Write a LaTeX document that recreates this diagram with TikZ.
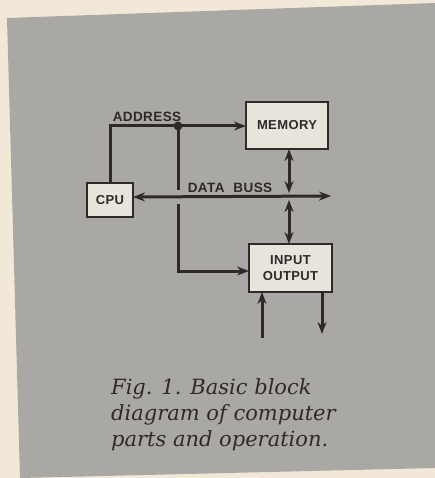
\documentclass[tikz,border=0pt]{standalone}
\usepackage{fontspec}
\newfontfamily\boxfont[LetterSpace=3]{Liberation Sans}
\newfontfamily\capfont{DejaVu Serif}
\usetikzlibrary{arrows.meta}
\definecolor{paper}{HTML}{F1E8D8}
\definecolor{panel}{HTML}{AAA8A5}
\definecolor{ink}{HTML}{2E2A28}
\definecolor{boxfill}{HTML}{E8E4DC}
\tikzset{
  blk/.style={draw=ink, line width=2.2pt, fill=boxfill, inner sep=0pt, text=ink,
              font=\boxfont\bfseries\fontsize{13}{15}\selectfont, align=center},
  wire/.style={draw=ink, line width=3pt},
  tip/.style={-{Stealth[length=12pt,width=9pt]}},
  dtip/.style={{Stealth[length=12pt,width=9pt]}-{Stealth[length=12pt,width=9pt]}},
  lbl/.style={text=ink, font=\boxfont\bfseries\fontsize{13.5}{15}\selectfont, inner sep=0pt},
  captext/.style={text=ink, font=\capfont\itshape\fontsize{21}{26}\selectfont, inner sep=0pt, anchor=base west}
}
\begin{document}
\begin{tikzpicture}[x=1pt,y=-1pt]
\useasboundingbox (0,0) rectangle (435,478);
\fill[paper] (0,0) rectangle (435,478);
\fill[panel] (7,18) -- (435,3) -- (435,468) -- (20,478) -- cycle;

% blocks
\node[blk, minimum width=82pt, minimum height=47pt] (mem) at (287,125.5) {MEMORY};
\node[blk, minimum width=46pt, minimum height=34pt] (cpu) at (110,200) {CPU};
\node[blk, minimum width=83pt, minimum height=48pt] (io) at (290.5,268) {INPUT\\[1pt]OUTPUT};

% coordinates
\coordinate (cpuT) at (110,183);
\coordinate (acorner) at (110,126);
\coordinate (dot) at (178,126);
\coordinate (memL) at (246,126);
\coordinate (gapA) at (178,190);
\coordinate (gapB) at (178,204);
\coordinate (bcorner) at (178,271);
\coordinate (ioL) at (249,271);
\coordinate (busL) at (133,197);
\coordinate (busR) at (331,196);
\coordinate (memB) at (289,149);
\coordinate (busM1) at (289,193);
\coordinate (busM2) at (289,200);
\coordinate (ioT) at (289,244);
\coordinate (inB) at (262,338);
\coordinate (inT) at (262,292);
\coordinate (outT) at (322,292);
\coordinate (outB) at (322,334);

% address bus
\draw[wire] (cpuT) -- (acorner) -- (dot);
\draw[wire, tip] (dot) -- (memL);
\draw[wire] (dot) -- (gapA);
\draw[wire, tip] (gapB) -- (bcorner) -- (ioL);
\fill[ink] (dot) circle (4.5pt);

% data bus
\draw[wire, dtip] (busL) -- (busR);
\draw[wire, dtip] (memB) -- (busM1);
\draw[wire, dtip] (busM2) -- (ioT);

% I/O lines
\draw[wire, tip] (inB) -- (inT);
\draw[wire, tip] (outT) -- (outB);

% labels
\node[lbl] (addr) at (147,117) {ADDRESS};
\node[lbl] (data) at (230,188) {DATA\hspace{9pt}BUSS};

% caption
\node[captext] (c1) at (111,394) {Fig. 1. Basic block};
\node[captext] (c2) at (111,420) {diagram of computer};
\node[captext] (c3) at (111,446) {parts and operation.};
\end{tikzpicture}
\end{document}
